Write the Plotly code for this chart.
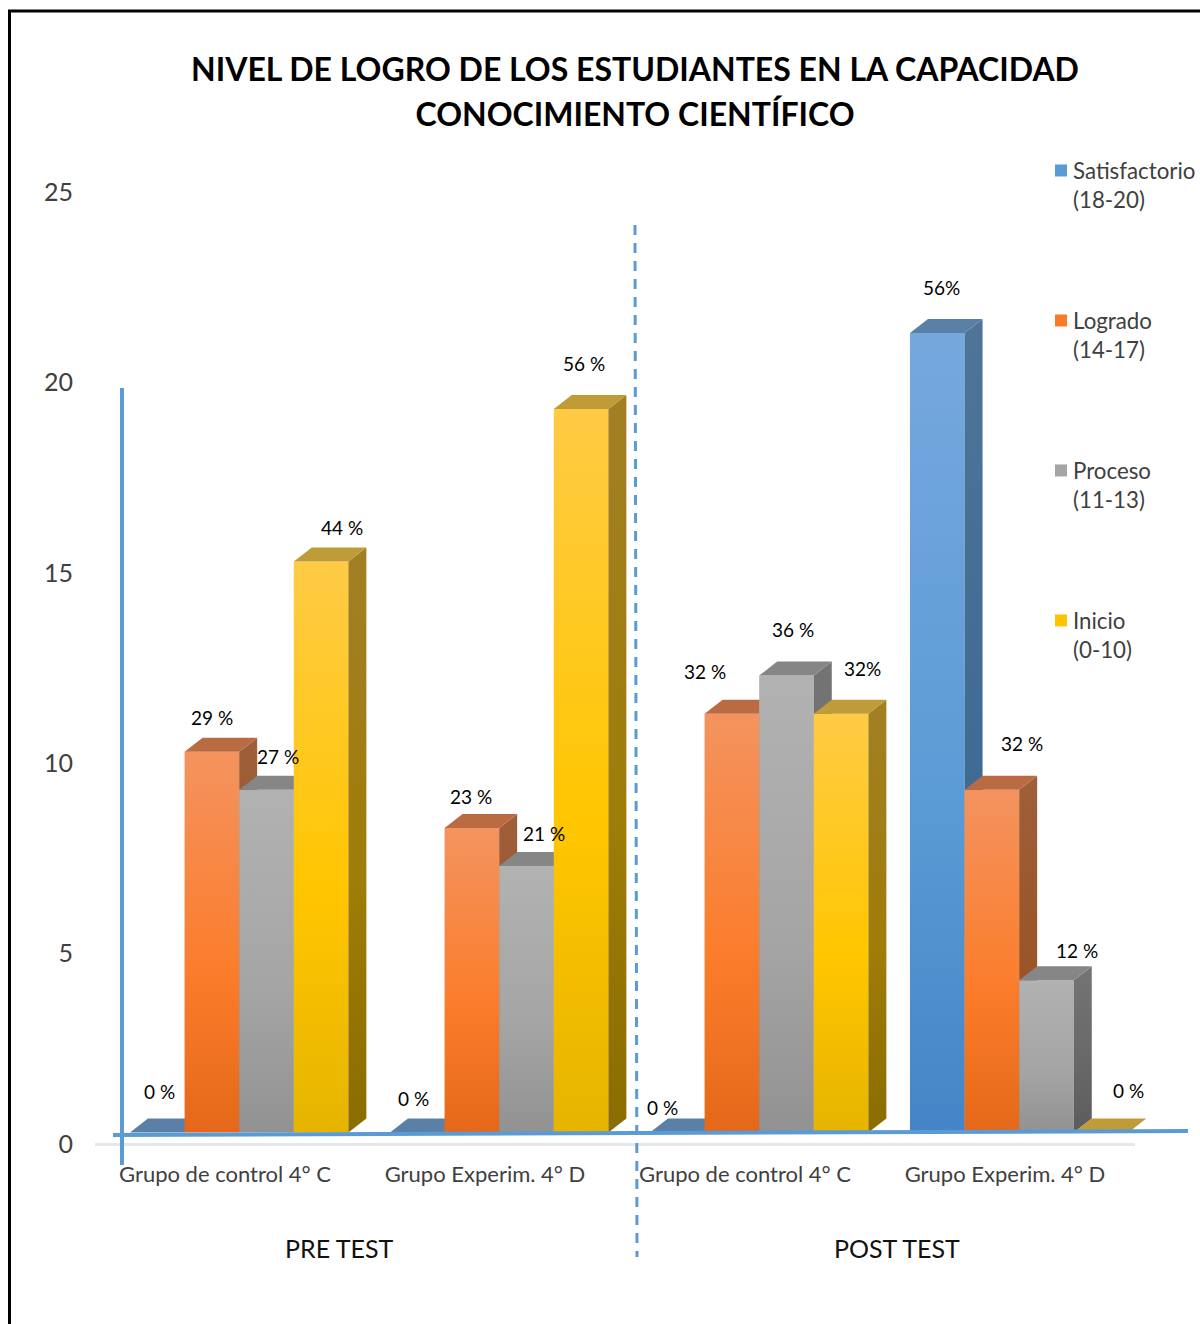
import plotly.graph_objects as go

# Chart data: students per achievement level, one value per group
groups = ["Grupo de control 4° C", "Grupo Experim. 4° D", "Grupo de control 4° C", "Grupo Experim. 4° D"]
satisfactorio = [0, 0, 0, 21]
logrado = [10, 8, 11, 9]
proceso = [9, 7, 12, 4]
inicio = [15, 19, 11, 0]
value_ticks = [0, 5, 10, 15, 20, 25]

satisfactorio_labels = ["0 %", "0 %", "0 %", "56%"]
logrado_labels = ["29 %", "23 %", "32 %", "32 %"]
proceso_labels = ["27 %", "21 %", "36 %", "12 %"]
inicio_labels = ["44 %", "56 %", "32%", "0 %"]

legend_names = ["Satisfactorio<br>(18-20)", "Logrado<br>(14-17)", "Proceso<br>(11-13)", "Inicio<br>(0-10)"]
series_values = [satisfactorio, logrado, proceso, inicio]
series_labels = [satisfactorio_labels, logrado_labels, proceso_labels, inicio_labels]

# Face colours: front (flat, swapped for a gradient in the page), side, top
front_colors = ["#5B9BD5", "#F97B2A", "#A5A5A5", "#FFC400"]
side_colors = ["#3E6A94", "#96562E", "#686868", "#98780F"]
top_colors = ["#5A80A8", "#BA6B42", "#868686", "#C09C38"]

# Label offsets from the top of each bar, in pixels (x, y)
label_nudges = [
    [(2, -41), (-4, -34), (-15, -25), (4, -45)],
    [(0, -34), (-1, -31), (-27, -42), (30, -46)],
    [(12, -33), (18, -33), (7, -46), (31, -30)],
    [(21, -34), (3, -46), (21, -45), (27, -42)],
]

# Plot area geometry; the x range runs past the last category to leave room for the depth faces
W, H = 1200, 1324
L, R, T, B = 95, 40, 192, 180
PW, PH = W - L - R, H - T - B
FLOOR = 0.3           # the 3D floor lifts the bars above the zero line
BAR_W = 0.21
BAR_SHIFT = 0.0545
DEPTH_X = 18 / 260    # receding depth in x units
DEPTH_Y = 14 / (PH / 25)

XR = [-0.5, 3.5 + 25 / 260]
YR = [0, 25]


def px(x):
    return (x - L) / PW


def py(y):
    return (H - B - y) / PH


fig = go.Figure()

for j, values in enumerate(series_values):
    suffix = "" if j == 0 else str(j + 1)
    xa, ya = "x" + suffix, "y" + suffix
    xs = [g + (j - 1.5) * BAR_W + BAR_SHIFT for g in range(4)]

    fig.add_trace(go.Bar(
        x=xs, y=values, base=[FLOOR] * 4, width=BAR_W, name=legend_names[j],
        legendgroup=str(j), marker=dict(color=front_colors[j], line=dict(width=0)),
        xaxis=xa, yaxis=ya, hoverinfo="skip",
    ))

    for xc, v in zip(xs, values):
        x0, x1 = xc - BAR_W / 2, xc + BAR_W / 2
        top = v + FLOOR
        if v > 0:
            fig.add_trace(go.Scatter(
                x=[x1, x1 + DEPTH_X, x1 + DEPTH_X, x1, x1],
                y=[FLOOR, FLOOR + DEPTH_Y, top + DEPTH_Y, top, FLOOR],
                mode="lines", fill="toself", fillcolor=side_colors[j],
                line=dict(width=0), showlegend=False, xaxis=xa, yaxis=ya, hoverinfo="skip",
            ))
        fig.add_trace(go.Scatter(
            x=[x0, x0 + DEPTH_X, x1 + DEPTH_X, x1, x0],
            y=[top, top + DEPTH_Y, top + DEPTH_Y, top, top],
            mode="lines", fill="toself", fillcolor=top_colors[j],
            line=dict(width=0), showlegend=False, xaxis=xa, yaxis=ya, hoverinfo="skip",
        ))

annotations = []
for j, values in enumerate(series_values):
    for g, v in enumerate(values):
        dx, dy = label_nudges[j][g]
        annotations.append(dict(
            x=g + (j - 1.5) * BAR_W + BAR_SHIFT, y=v + FLOOR, xref="x", yref="y",
            text=series_labels[j][g], showarrow=False, xshift=dx, yshift=-dy,
            xanchor="center", yanchor="middle",
            font=dict(family="Lato", size=19, color="#000000"),
        ))

for text, cx in [("PRE TEST", 339), ("POST TEST", 897)]:
    annotations.append(dict(
        x=px(cx), y=py(1247.5), xref="paper", yref="paper", text=text, showarrow=False,
        xanchor="center", yanchor="middle", font=dict(family="Lato", size=25, color="#111111"),
    ))


def seg(x0, y0, x1, y1, color, width, dash="solid", layer="above"):
    return dict(type="line", xref="paper", yref="paper", x0=px(x0), y0=py(y0), x1=px(x1), y1=py(y1),
                line=dict(color=color, width=width, dash=dash), layer=layer)


shapes = [
    seg(95, 1144.5, 1135, 1144.5, "#E4E8EC", 3, layer="below"),
    seg(9.5, 11, 9.5, H, "#000000", 3),
    seg(8, 11, W, 11, "#000000", 3),
    seg(113, 1135, 1188, 1131, "#5B9BD5", 4),
    seg(122, 388, 122, 1165, "#5B9BD5", 4),
    seg(635, 225, 637, 1257, "#5B9BD5", 3, "10px,8px"),
]

fig.update_layout(
    width=W, height=H,
    margin=dict(l=L, r=R, t=T, b=B, pad=0, autoexpand=False),
    paper_bgcolor="white", plot_bgcolor="white",
    barmode="overlay", hovermode=False,
    title=dict(
        text="NIVEL DE LOGRO DE LOS ESTUDIANTES EN LA CAPACIDAD<br>CONOCIMIENTO CIENTÍFICO",
        x=635 / W, xanchor="center", xref="container",
        y=1 - 81 / H, yanchor="middle", yref="container",
        font=dict(family="Lato", size=32, color="#000000", weight="bold"),
    ),
    xaxis=dict(
        range=XR, tickmode="array", tickvals=[0, 1, 2, 3], ticktext=groups,
        showgrid=False, zeroline=False, showline=False,
        ticks="outside", ticklen=11, tickcolor="rgba(0,0,0,0)",
        tickfont=dict(family="Lato", size=22, color="#404040"),
    ),
    yaxis=dict(
        range=YR, tickmode="array", tickvals=value_ticks, showgrid=False, zeroline=False,
        showline=False, ticks="outside", ticklen=16, tickcolor="rgba(0,0,0,0)",
        tickfont=dict(family="Lato", size=25, color="#404040"),
    ),
    legend=dict(
        x=px(1041), xanchor="left", y=py(149), yanchor="top",
        traceorder="grouped", tracegroupgap=89, bgcolor="rgba(0,0,0,0)",
        font=dict(family="Lato", size=22.3, color="#404040"),
    ),
    annotations=annotations,
    shapes=shapes,
    showlegend=True,
)

# Each series gets its own overlaid axis pair so later bars paint over earlier depth faces
for n in (2, 3, 4):
    fig.update_layout({
        f"xaxis{n}": dict(range=XR, overlaying="x", visible=False),
        f"yaxis{n}": dict(range=YR, overlaying="y", visible=False),
    })

# Vertical gradients for the bar fronts and side faces, keyed by the flat fill colour
gradient_script = """
var gp = document.querySelector('.js-plotly-plot');
var stops = {
  'rgb(91, 155, 213)':  ['#76A8DE', '#5B9BD5', '#4385C6'],
  'rgb(249, 123, 42)':  ['#F4935F', '#FB7D2B', '#E5681A'],
  'rgb(165, 165, 165)': ['#B2B2B2', '#A5A5A5', '#929292'],
  'rgb(255, 196, 0)':   ['#FFCB45', '#FFC600', '#E6B400'],
  'rgb(62, 106, 148)':  ['#4F7498', '#3E6A94', '#2F5F8C'],
  'rgb(150, 86, 46)':   ['#9E5F3A', '#9A5426', '#8E4A14'],
  'rgb(104, 104, 104)': ['#747474', '#686868', '#5C5C5C'],
  'rgb(152, 120, 15)':  ['#A27F24', '#A07C08', '#8A6C00']
};
var NS = 'http://www.w3.org/2000/svg';
var svg = gp.querySelector('svg.main-svg');
var defs = document.createElementNS(NS, 'defs');
svg.insertBefore(defs, svg.firstChild);
var ids = {}, i = 0;
Object.keys(stops).forEach(function (k) {
  var g = document.createElementNS(NS, 'linearGradient');
  g.setAttribute('id', 'face' + i);
  g.setAttribute('x1', '0'); g.setAttribute('y1', '0');
  g.setAttribute('x2', '0'); g.setAttribute('y2', '1');
  [0, 0.58, 1].forEach(function (o, n) {
    var s = document.createElementNS(NS, 'stop');
    s.setAttribute('offset', o);
    s.setAttribute('stop-color', stops[k][n]);
    g.appendChild(s);
  });
  defs.appendChild(g);
  ids[k] = 'url(#face' + i + ')';
  i++;
});
gp.querySelectorAll('.barlayer .point path, .scatterlayer .js-fill').forEach(function (p) {
  var id = ids[p.style.fill];
  if (id) { p.style.fill = id; }
});
// Legend: tighter swatch-to-text gap, swatch beside the first line of its entry
gp.querySelectorAll('.legend .legendtext').forEach(function (t) {
  var x = parseFloat(t.getAttribute('x')) - 8;
  t.setAttribute('x', x);
  t.querySelectorAll('tspan.line').forEach(function (l) { l.setAttribute('x', x); });
});
gp.querySelectorAll('.legend .legendsymbols').forEach(function (s) {
  s.setAttribute('transform', 'translate(0,-14)');
});
// Title: slightly more open leading between its two lines
gp.querySelectorAll('.gtitle tspan.line').forEach(function (l, n) {
  if (n === 1) { l.setAttribute('dy', '1.41em'); }
});
"""

fig.write_html("out.html", post_script=gradient_script, config=dict(displayModeBar=False))
